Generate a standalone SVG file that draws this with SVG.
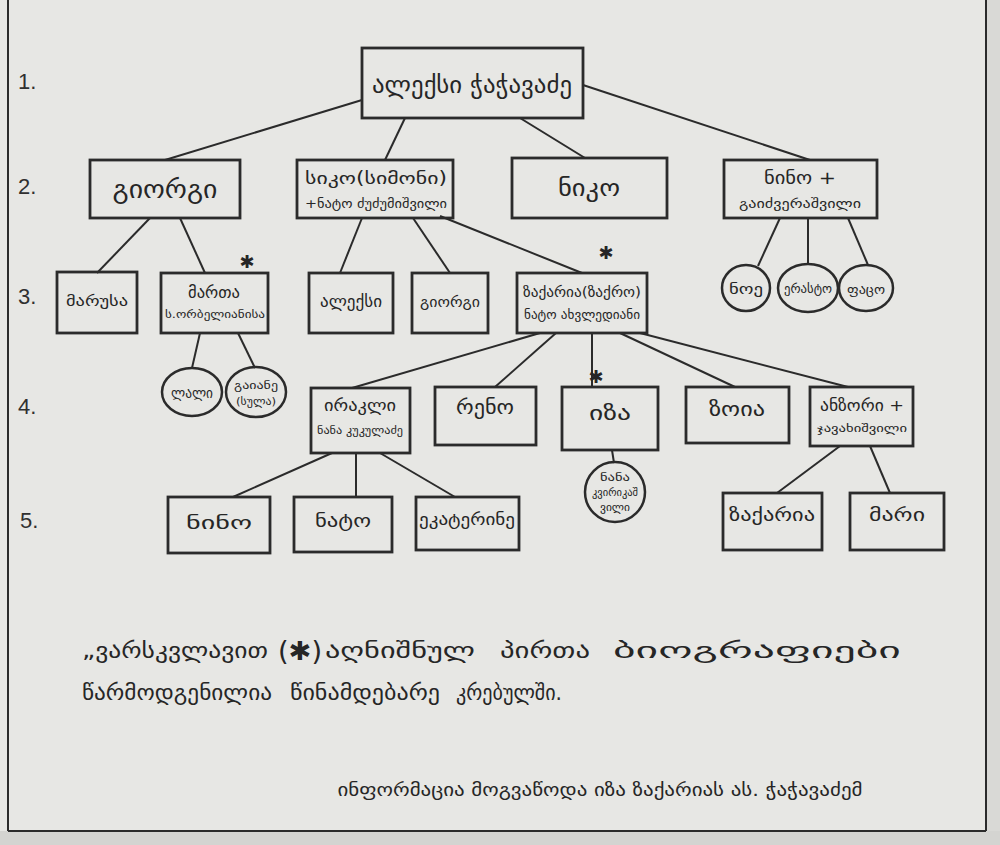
<svg xmlns="http://www.w3.org/2000/svg" width="1000" height="845" viewBox="0 0 1000 845">
<style>
.bg{fill:#e7e7e4}
.box{fill:none;stroke:#2b2b2b;stroke-width:2.8}
.circ{fill:none;stroke:#2b2b2b;stroke-width:2.5}
.ln{stroke:#2b2b2b;stroke-width:2;fill:none}
text{font-family:"DejaVu Sans","Noto Sans",sans-serif;fill:#262626;text-anchor:middle}
.num{font-family:"Liberation Sans",sans-serif;font-size:22px;text-anchor:start;fill:#303030}
.star{font-size:18px}
.foot{font-size:22px;text-anchor:start}
</style>
<rect class="bg" x="0" y="0" width="1000" height="845"/>
<rect x="986" y="0" width="14" height="845" fill="#d9d9d6"/>
<rect x="0" y="831" width="1000" height="14" fill="#d4d4d1"/>
<g id="frame" class="ln">
<line x1="8" y1="0" x2="8" y2="831"/>
<line x1="8" y1="831" x2="986" y2="831"/>
<line x1="986" y1="0" x2="986" y2="831"/>
</g>
<g id="levels">
<text class="num" x="18" y="89">1.</text>
<text class="num" x="18" y="194">2.</text>
<text class="num" x="18" y="304">3.</text>
<text class="num" x="18" y="414">4.</text>
<text class="num" x="20" y="528">5.</text>
</g>
<g id="connectors" class="ln">
<line x1="362" y1="100" x2="165" y2="160"/>
<line x1="405" y1="118" x2="385" y2="160"/>
<line x1="520" y1="118" x2="585" y2="158"/>
<line x1="583" y1="85" x2="810" y2="160"/>
<line x1="150" y1="218" x2="97" y2="273"/>
<line x1="180" y1="218" x2="205" y2="273"/>
<line x1="362" y1="218" x2="340" y2="273"/>
<line x1="413" y1="218" x2="450" y2="273"/>
<line x1="440" y1="216" x2="582" y2="273"/>
<line x1="780" y1="218" x2="758" y2="266"/>
<line x1="808" y1="218" x2="808" y2="264"/>
<line x1="848" y1="218" x2="868" y2="265"/>
<line x1="200" y1="333" x2="192" y2="368"/>
<line x1="238" y1="333" x2="255" y2="368"/>
<line x1="540" y1="333" x2="352" y2="388"/>
<line x1="556" y1="333" x2="495" y2="387"/>
<line x1="592" y1="333" x2="592" y2="387"/>
<line x1="620" y1="333" x2="735" y2="387"/>
<line x1="640" y1="333" x2="848" y2="387"/>
<line x1="612" y1="450" x2="614" y2="463"/>
<line x1="332" y1="453" x2="233" y2="497"/>
<line x1="356" y1="453" x2="356" y2="497"/>
<line x1="380" y1="453" x2="455" y2="497"/>
<line x1="840" y1="446" x2="777" y2="493"/>
<line x1="870" y1="446" x2="890" y2="493"/>
</g>
<g id="n-root"><rect class="box" x="362" y="48" width="221" height="70"/><text x="472" y="93" font-size="24" textLength="200" lengthAdjust="spacingAndGlyphs">ალექსი ჭაჭავაძე</text></g>
<g id="n-giorgi1"><rect class="box" x="90" y="160" width="150" height="58"/><text x="165" y="198" font-size="26" textLength="105" lengthAdjust="spacingAndGlyphs">გიორგი</text></g>
<g id="n-siko"><rect class="box" x="297" y="160" width="156" height="58"/><text x="376" y="184" font-size="17" textLength="142" lengthAdjust="spacingAndGlyphs">სიკო(სიმონი)</text><text x="376" y="208" font-size="12" textLength="142" lengthAdjust="spacingAndGlyphs">+ნატო ძუძუმიშვილი</text></g>
<g id="n-niko"><rect class="box" x="512" y="158" width="155" height="60"/><text x="589" y="196" font-size="24" textLength="62" lengthAdjust="spacingAndGlyphs">ნიკო</text></g>
<g id="n-nino1"><rect class="box" x="724" y="160" width="153" height="58"/><text x="800" y="184" font-size="18" textLength="72" lengthAdjust="spacingAndGlyphs">ნინო +</text><text x="800" y="208" font-size="13" textLength="122" lengthAdjust="spacingAndGlyphs">გაიძვერაშვილი</text></g>
<g id="n-marusa"><rect class="box" x="57" y="272" width="80" height="61"/><text x="97" y="306" font-size="15" textLength="62" lengthAdjust="spacingAndGlyphs">მარუსა</text></g>
<g id="n-marta"><rect class="box" x="161" y="273" width="107" height="60"/><text x="214" y="298" font-size="16" textLength="52" lengthAdjust="spacingAndGlyphs">მართა</text><text x="215" y="318" font-size="10" textLength="100" lengthAdjust="spacingAndGlyphs">ს.ორბელიანისა</text><text class="star" x="247" y="268">✱</text></g>
<g id="n-aleksi"><rect class="box" x="309" y="273" width="84" height="60"/><text x="351" y="307" font-size="16" textLength="62" lengthAdjust="spacingAndGlyphs">ალექსი</text></g>
<g id="n-giorgi2"><rect class="box" x="412" y="273" width="76" height="60"/><text x="450" y="307" font-size="15" textLength="60" lengthAdjust="spacingAndGlyphs">გიორგი</text></g>
<g id="n-zakaria1"><rect class="box" x="517" y="273" width="130" height="60"/><text x="582" y="297" font-size="14" textLength="118" lengthAdjust="spacingAndGlyphs">ზაქარია(ზაქრო)</text><text x="582" y="319" font-size="12" textLength="116" lengthAdjust="spacingAndGlyphs">ნატო ახვლედიანი</text><text class="star" x="606" y="259">✱</text></g>
<g id="n-noe"><ellipse class="circ" cx="746" cy="288" rx="24" ry="23"/><text x="746" y="294" font-size="14" textLength="34" lengthAdjust="spacingAndGlyphs">ნოე</text></g>
<g id="n-erasto"><ellipse class="circ" cx="808" cy="288" rx="30" ry="24"/><text x="808" y="293" font-size="12" textLength="48" lengthAdjust="spacingAndGlyphs">ერასტო</text></g>
<g id="n-paco"><ellipse class="circ" cx="866" cy="288" rx="27" ry="23"/><text x="866" y="294" font-size="13" textLength="38" lengthAdjust="spacingAndGlyphs">ფაცო</text></g>
<g id="n-lali"><ellipse class="circ" cx="192" cy="392" rx="30" ry="24"/><text x="192" y="398" font-size="15" textLength="42" lengthAdjust="spacingAndGlyphs">ლალი</text></g>
<g id="n-gaiane"><ellipse class="circ" cx="256" cy="392" rx="30" ry="25"/><text x="256" y="389" font-size="11" textLength="44" lengthAdjust="spacingAndGlyphs">გაიანე</text><text x="256" y="405" font-size="11" textLength="40" lengthAdjust="spacingAndGlyphs">(სულა)</text></g>
<g id="n-irakli"><rect class="box" x="311" y="388" width="99" height="65"/><text x="360" y="411" font-size="16" textLength="72" lengthAdjust="spacingAndGlyphs">ირაკლი</text><text x="360" y="434" font-size="11" textLength="86" lengthAdjust="spacingAndGlyphs">ნანა კუკულაძე</text></g>
<g id="n-reno"><rect class="box" x="435" y="387" width="101" height="58"/><text x="485" y="414" font-size="19" textLength="58" lengthAdjust="spacingAndGlyphs">რენო</text></g>
<g id="n-iza"><rect class="box" x="562" y="387" width="96" height="63"/><text x="610" y="420" font-size="20" textLength="42" lengthAdjust="spacingAndGlyphs">იზა</text><text class="star" x="596" y="383">✱</text></g>
<g id="n-zoia"><rect class="box" x="686" y="387" width="103" height="56"/><text x="737" y="416" font-size="19" textLength="56" lengthAdjust="spacingAndGlyphs">ზოია</text></g>
<g id="n-anzori"><rect class="box" x="810" y="387" width="103" height="59"/><text x="862" y="411" font-size="16" textLength="84" lengthAdjust="spacingAndGlyphs">ანზორი +</text><text x="862" y="432" font-size="10" textLength="90" lengthAdjust="spacingAndGlyphs">ჯავახიშვილი</text></g>
<g id="n-iza-child"><circle class="circ" cx="615" cy="492" r="30"/><text x="615" y="481" font-size="10" textLength="30" lengthAdjust="spacingAndGlyphs">ნანა</text><text x="615" y="496" font-size="10" textLength="46" lengthAdjust="spacingAndGlyphs">კვირიკაშ</text><text x="615" y="511" font-size="10" textLength="30" lengthAdjust="spacingAndGlyphs">ვილი</text></g>
<g id="n-nino2"><rect class="box" x="168" y="497" width="102" height="56"/><text x="219" y="529" font-size="18" textLength="66" lengthAdjust="spacingAndGlyphs">ნინო</text></g>
<g id="n-nato"><rect class="box" x="294" y="497" width="98" height="55"/><text x="343" y="527" font-size="18" textLength="56" lengthAdjust="spacingAndGlyphs">ნატო</text></g>
<g id="n-ekaterine"><rect class="box" x="416" y="497" width="103" height="53"/><text x="467" y="525" font-size="16" textLength="96" lengthAdjust="spacingAndGlyphs">ეკატერინე</text></g>
<g id="n-zakaria2"><rect class="box" x="723" y="493" width="99" height="57"/><text x="772" y="521" font-size="18" textLength="86" lengthAdjust="spacingAndGlyphs">ზაქარია</text></g>
<g id="n-mari"><rect class="box" x="850" y="493" width="94" height="57"/><text x="897" y="521" font-size="18" textLength="56" lengthAdjust="spacingAndGlyphs">მარი</text></g>
<g id="footer">
<text class="foot" x="82" y="658" textLength="186" lengthAdjust="spacingAndGlyphs">„ვარსკვლავით</text>
<text x="300" y="660" font-size="26" textLength="44" lengthAdjust="spacingAndGlyphs">(✱)</text>
<text class="foot" x="325" y="658" textLength="150" lengthAdjust="spacingAndGlyphs">აღნიშნულ</text>
<text class="foot" x="500" y="658" textLength="90" lengthAdjust="spacingAndGlyphs">პირთა</text>
<text class="foot" x="613" y="658" textLength="288" lengthAdjust="spacingAndGlyphs">ბიოგრაფიები</text>
<text class="foot" x="82" y="700" textLength="190" lengthAdjust="spacingAndGlyphs">წარმოდგენილია</text>
<text class="foot" x="290" y="700" textLength="150" lengthAdjust="spacingAndGlyphs">წინამდებარე</text>
<text class="foot" x="456" y="700" textLength="106" lengthAdjust="spacingAndGlyphs">კრებულში.</text>
<text x="600" y="796" font-size="18" textLength="525" lengthAdjust="spacingAndGlyphs">ინფორმაცია მოგვაწოდა იზა ზაქარიას ას. ჭაჭავაძემ</text>
</g>
</svg>
